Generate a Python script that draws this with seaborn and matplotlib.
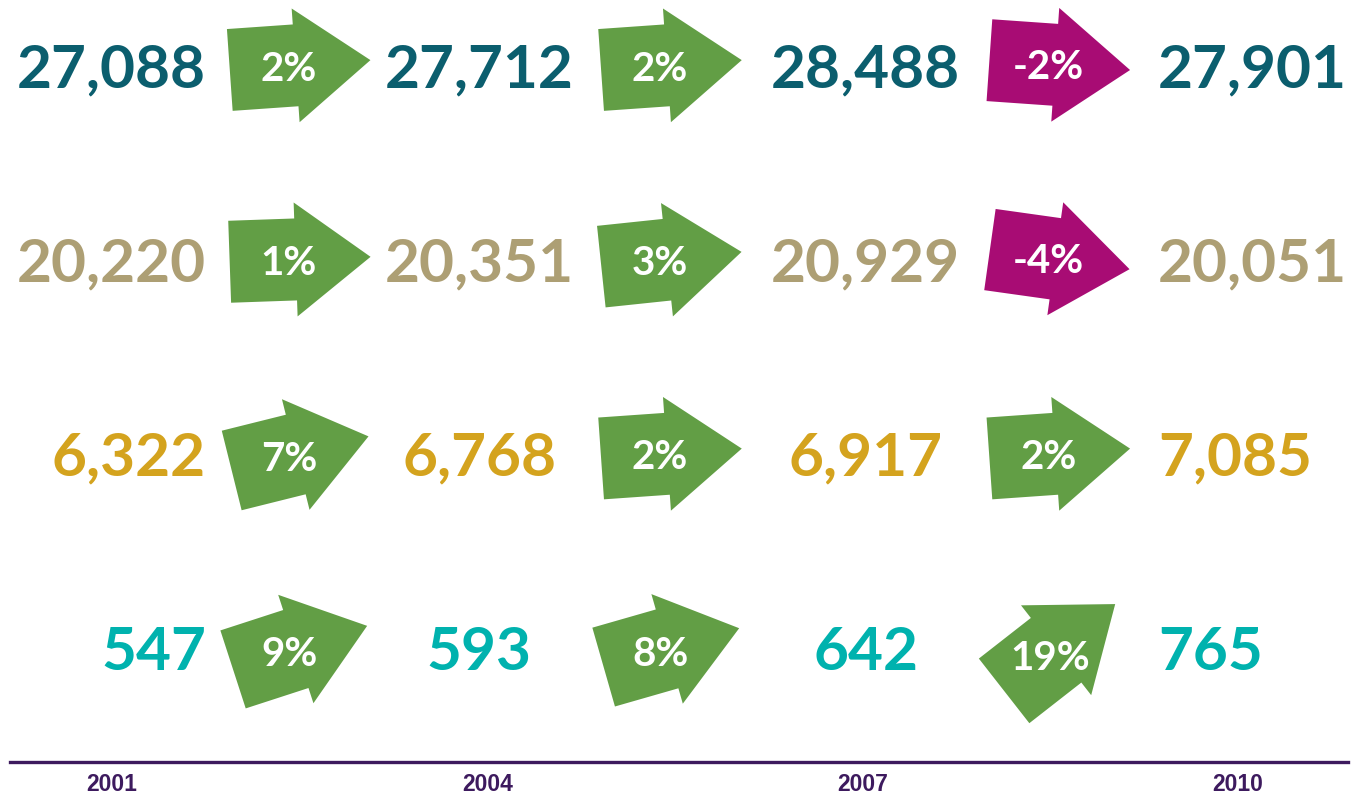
import numpy as np
import pandas as pd
import matplotlib.pyplot as plt
import matplotlib.transforms as mtransforms
from matplotlib.patches import Polygon
import seaborn as sns

# data
years = [2001, 2004, 2007, 2010]
row1 = [27088, 27712, 28488, 27901]
row2 = [20220, 20351, 20929, 20051]
row3 = [6322, 6768, 6917, 7085]
row4 = [547, 593, 642, 765]
change1 = [2, 2, -2]
change2 = [1, 3, -4]
change3 = [7, 2, 2]
change4 = [9, 8, 19]

rows = [row1, row2, row3, row4]
changes = [change1, change2, change3, change4]

# styles
row_colors = ['#0b5e6e', '#ad9f74', '#d4a31e', '#00b2ae']
up_color = '#629e45'
down_color = '#a80c74'
line_color = '#3d1a5e'

sns.set_theme(style='white')
plt.rcParams['font.family'] = ['Lato', 'DejaVu Sans']

fig = plt.figure(figsize=(13.52, 7.96), dpi=100)
ax = fig.add_axes([10 / 1352, 34 / 796, 1338 / 1352, 762 / 796])
ax.set_xlim(2000.185, 2010.880)
ax.set_ylim(3.588, -0.335)
sns.despine(ax=ax, left=True)
ax.spines['bottom'].set_color(line_color)
ax.spines['bottom'].set_linewidth(2.4)
ax.set_yticks([])
ax.set_xticks(years)
ax.set_xticklabels(years, fontfamily=['Liberation Sans', 'DejaVu Sans'],
                   fontweight='bold', fontsize=16.5, color=line_color)
ax.tick_params(axis='x', length=0, pad=8)

# big numbers
col_ha = ['right', 'center', 'center', 'left']
col_dx = [94, -8, 3, -80]
for r, (vals, color) in enumerate(zip(rows, row_colors)):
    for c, (yr, v) in enumerate(zip(years, vals)):
        ax.annotate(f'{v:,}', (yr, r), xytext=(col_dx[c], 0),
                    textcoords='offset pixels', ha=col_ha[c],
                    va='center_baseline', fontsize=43.5, fontweight='bold',
                    color=color)

# arrows with % change, tilted by the size of the change
arrow_dx = [0, -4, 9]
shape = np.array([(-70, -41), (-4, -41), (-4, -57), (71, 0),
                  (-4, 57), (-4, 41), (-70, 41)])
for r, chg in enumerate(changes):
    for c, p in enumerate(chg):
        xm = (years[c] + years[c + 1]) / 2
        tr = (mtransforms.Affine2D().rotate_deg(2 * p).translate(arrow_dx[c], 0)
              .scale(1 / fig.dpi)
              + fig.dpi_scale_trans
              + mtransforms.ScaledTranslation(xm, r, ax.transData))
        color = up_color if p > 0 else down_color
        ax.add_patch(Polygon(shape, closed=True, facecolor=color,
                             edgecolor='none', transform=tr))
        ax.text(-11, 0, f'{p}%', transform=tr, ha='center',
                va='center_baseline', fontsize=29, fontweight='bold',
                color='white')

fig.savefig('out.png', dpi=100, facecolor='white')
